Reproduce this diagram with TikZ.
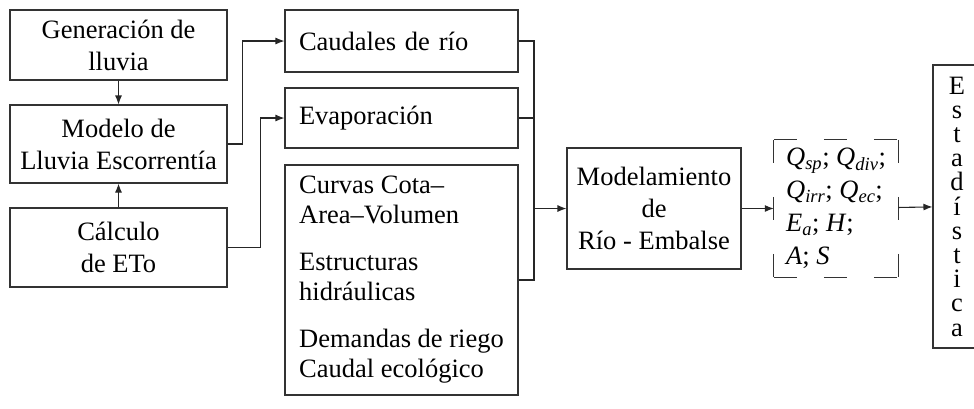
\documentclass[tikz,border=0pt]{standalone}
\usepackage{fontspec}
\setmainfont{Liberation Serif}
\usetikzlibrary{arrows.meta}

\begin{document}
\begin{tikzpicture}[x=1pt, y=-1pt,
    font=\fontsize{26.5}{32}\selectfont,
    box/.style={draw=black!80, line width=1.1pt, rectangle, inner sep=0pt},
    arr/.style={draw=black!85, line width=1.1pt, -{Latex[length=9pt,width=7pt]}},
    ln/.style={draw=black!85, line width=1.1pt},
    dashbox/.style={draw=black!80, line width=1.1pt}]
    \useasboundingbox (0,0) rectangle (974,408);

    %nodes
    \node[box, minimum width=217pt, minimum height=70pt, align=center] (gen) at (118.5, 45) {Generación de\\lluvia};
    \node[box, minimum width=217pt, minimum height=78pt, align=center] (modelo) at (118.5, 144) {Modelo de\\Lluvia Escorrentía};
    \node[box, minimum width=217pt, minimum height=79pt, align=center] (calc) at (118.5, 247.5) {Cálculo\\de ETo};

    \node[box, minimum height=62pt, text width=205pt, inner xsep=14pt, align=left] (caudales) at (401.5, 41) {Caudales de río};
    \node[box, minimum height=60pt, text width=205pt, inner xsep=14pt, align=left] (evap) at (401.5, 118) {Evaporación};
    \node[box, minimum width=233pt, minimum height=230pt, align=left,
          font=\fontsize{26.5}{30}\selectfont] (curvas) at (401.5, 280)
          {Curvas Cota–\\Area–Volumen\\[17pt]Estructuras\\hidráulicas\\[17pt]Demandas de riego\\Caudal ecológico};

    \node[box, minimum width=174pt, minimum height=121pt, align=center] (modrio) at (654, 208.5) {Modelamiento\\de\\Río - Embalse};

    \node[minimum width=124pt, minimum height=137pt, inner sep=0pt, align=left,
          font=\fontsize{26.5}{33}\selectfont] (res) at (836, 208.5)
          {\textit{Q}\textsubscript{\textit{sp}}; \textit{Q}\textsubscript{\textit{div}};\\
           \textit{Q}\textsubscript{\textit{irr}}; \textit{Q}\textsubscript{\textit{ec}};\\
           \textit{E}\textsubscript{\textit{a}}; \textit{H};\\
           \textit{A}; \textit{S}};

    \node[box, minimum width=48pt, minimum height=283pt, align=center,
          font=\fontsize{26.5}{24.2}\selectfont] (estad) at (957, 206.5) {E\\s\\t\\a\\d\\í\\s\\t\\i\\c\\a};

    %dashed frame
    \draw[dashbox, dash pattern=on 23pt off 27pt] (res.north west) -- (res.north east);
    \draw[dashbox, dash pattern=on 23pt off 27pt] (res.south west) -- (res.south east);
    \draw[dashbox, dash pattern=on 23pt off 34pt] (res.north west) -- (res.south west);
    \draw[dashbox, dash pattern=on 23pt off 34pt] (res.north east) -- (res.south east);

    %edges
    \coordinate (join) at (534, 208.5);
    \draw[arr] (gen) -- (modelo);
    \draw[arr] (calc) -- (modelo);
    \draw[arr] (modelo.east) -- ++(15, 0) |- (caudales.west);
    \draw[arr] (calc.east) -- ++(33, 0) |- (evap.west);
    \draw[ln] (caudales.east) -| (join);
    \draw[ln] (curvas.east) -| (join);
    \draw[ln] (evap.east) -- (evap.east -| join);
    \draw[arr] (join) -- (modrio.west);
    \draw[arr] (modrio) -- (res);
    \draw[arr] (res) -- (estad);
\end{tikzpicture}
\end{document}
